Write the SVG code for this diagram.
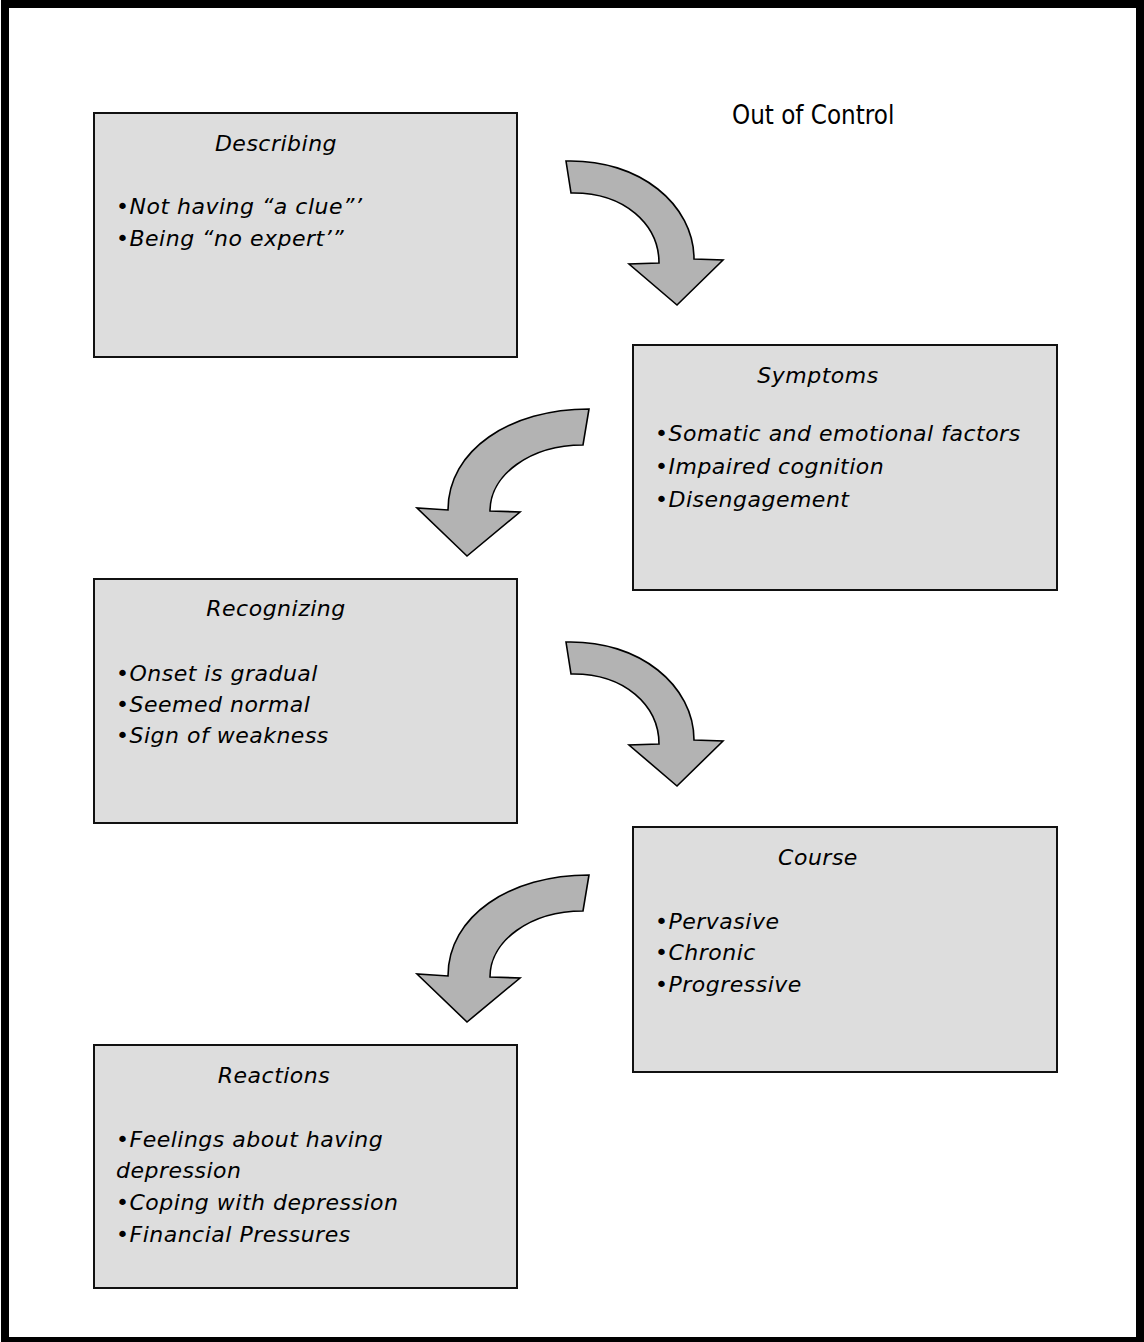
<svg xmlns="http://www.w3.org/2000/svg" width="1144" height="1342" viewBox="0 0 1144 1342">
<style>
.box{fill:#dddddd;stroke:#111;stroke-width:2}
.arrow{fill:#b3b3b3;stroke:#000;stroke-width:1.6;stroke-linejoin:miter}
.t{font-family:"DejaVu Sans","Verdana",sans-serif;font-style:italic;font-size:22px;letter-spacing:0.5px;fill:#000}
.title{text-anchor:middle}
.head{font-family:"DejaVu Sans Condensed","DejaVu Sans",sans-serif;font-stretch:condensed;font-size:25.7px;fill:#000}
</style>
<rect x="5" y="4" width="1135" height="1337" fill="#fff" stroke="#000" stroke-width="8"/>
<text class="head" x="732" y="124">Out of Control</text>
<g id="describing">
<rect class="box" x="94" y="113" width="423" height="244"/>
<text class="t title" x="276" y="151">Describing</text>
<text class="t" x="116" y="214">•Not having “a clue”’</text>
<text class="t" x="116" y="246">•Being “no expert’”</text>
</g>
<g id="symptoms">
<rect class="box" x="633" y="345" width="424" height="245"/>
<text class="t title" x="818" y="383">Symptoms</text>
<text class="t" x="655" y="441">•Somatic and emotional factors</text>
<text class="t" x="655" y="474">•Impaired cognition</text>
<text class="t" x="655" y="507">•Disengagement</text>
</g>
<g id="recognizing">
<rect class="box" x="94" y="579" width="423" height="244"/>
<text class="t title" x="276" y="616">Recognizing</text>
<text class="t" x="116" y="681">•Onset is gradual</text>
<text class="t" x="116" y="712">•Seemed normal</text>
<text class="t" x="116" y="743">•Sign of weakness</text>
</g>
<g id="course">
<rect class="box" x="633" y="827" width="424" height="245"/>
<text class="t title" x="818" y="865">Course</text>
<text class="t" x="655" y="929">•Pervasive</text>
<text class="t" x="655" y="960">•Chronic</text>
<text class="t" x="655" y="992">•Progressive</text>
</g>
<g id="reactions">
<rect class="box" x="94" y="1045" width="423" height="243"/>
<text class="t title" x="274" y="1083">Reactions</text>
<text class="t" x="116" y="1147">•Feelings about having</text>
<text class="t" x="116" y="1178">depression</text>
<text class="t" x="116" y="1210">•Coping with depression</text>
<text class="t" x="116" y="1242">•Financial Pressures</text>
</g>
<g id="connectors">
<path id="a1" class="arrow" d="M566,161 C640,159 694,205 694,259 L723,260 L677,305 L629,264 L659,263 C659,225 625,192 571,193 Z"/>
<path id="a2" class="arrow" d="M589,409 C510,409 448,450 448,510 L417,508 L467,556 L520,512 L490,511 C490,475 530,445 583,445 Z"/>
<path id="a3" class="arrow" transform="translate(0,481)" d="M566,161 C640,159 694,205 694,259 L723,260 L677,305 L629,264 L659,263 C659,225 625,192 571,193 Z"/>
<path id="a4" class="arrow" transform="translate(0,466)" d="M589,409 C510,409 448,450 448,510 L417,508 L467,556 L520,512 L490,511 C490,475 530,445 583,445 Z"/>
</g>
</svg>
